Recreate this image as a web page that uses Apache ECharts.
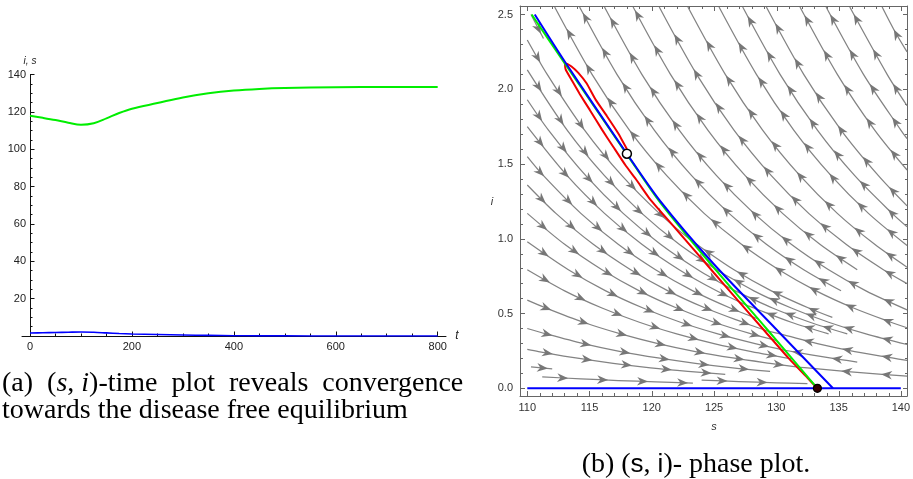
<!DOCTYPE html>
<html><head><meta charset="utf-8">
<script src="https://cdn.jsdelivr.net/npm/echarts@6/dist/echarts.min.js"></script>
<style>html,body{margin:0;padding:0;background:#fff}#c{width:913px;height:479px}</style>
</head><body><div id="c"></div>
<script>
// ---------- (a) time plot data ----------
const timeT = [0,25,50,75,100,125,150,175,200,250,300,350,400,450,500,600,700,800];
const timeS = [118.0,116.9,115.7,114.3,113.2,114.0,116.6,119.5,121.8,124.8,127.8,130.0,131.5,132.4,132.9,133.3,133.4,133.4];
const timeI = [1.57,1.73,1.88,2.04,2.17,1.99,1.65,1.31,1.09,0.80,0.53,0.31,0.17,0.09,0.045,0.01,0.002,0];
const timeXTicks = [0,200,400,600,800];
const timeYTicks = [20,40,60,80,100,120,140];

// ---------- (b) phase plot data ----------
const sTicks = [110,115,120,125,130,135,140];
const iTicks = [0,0.5,1.0,1.5,2.0,2.5];
const redS = [118.0,117.3,116.4,115.5,114.76,114.1,113.55,113.2,113.02,113.05,113.1,113.56,114.2,115.02,116.0,116.9,117.9,118.8,119.9,122.0,125.0,127.0,129.0,131.0,132.5,133.3];
const redI = [1.60,1.706,1.82,1.929,2.04,2.11,2.152,2.17,2.175,2.145,2.129,2.062,1.97,1.862,1.73,1.616,1.49,1.39,1.26,1.06,0.771,0.58,0.39,0.20,0.07,0];
const greenS = [110.35,113.0,118.0,120.7,125.0,129.2,133.3];
const greenI = [2.5,2.175,1.565,1.24,0.805,0.40,0];
const blueS = [110.6,113.1,118.0,120.7,124.9,129.7,134.55];
const blueI = [2.5,2.174,1.569,1.25,0.838,0.42,0];
const blueAxisS = [110,140];
const blueAxisI = [0,0];
const startPoint = [118.0,1.569];
const equilibriumPoint = [133.3,0];

// streamlines flowing down-right (points in flow order)
const streamsDown = [
 [[110.3,2.50],[111.3,2.34]],
 [[110,2.33],[111.6,2.10],[114.6,1.727],[117.6,1.422],[120.6,1.17],[123,1.0]],
 [[110,2.13],[113.2,1.727],[116.2,1.422],[119.2,1.17],[122.2,0.963],[125.2,0.793]],
 [[110,1.93],[111.7,1.727],[114.7,1.422],[117.7,1.17],[120.7,0.963],[123.7,0.793],[126.5,0.66]],
 [[110,1.75],[113.2,1.422],[116.2,1.17],[119.2,0.963],[122.2,0.793],[125.2,0.652],[127.5,0.56]],
 [[110,1.55],[111.3,1.422],[114.3,1.17],[117.3,0.963],[120.3,0.793],[123.3,0.652],[126.3,0.537],[128.5,0.465]],
 [[110,1.36],[112.3,1.17],[115.3,0.963],[118.3,0.793],[121.3,0.652],[124.3,0.537],[127.3,0.442],[129.4,0.38]],
 [[110,1.17],[113,0.963],[116,0.793],[119,0.652],[122,0.537],[125,0.442],[128,0.364],[130,0.32]],
 [[110,0.98],[113.3,0.793],[116.3,0.652],[119.3,0.537],[122.3,0.442],[125.3,0.364],[128.3,0.299],[130.7,0.254]],
 [[110,0.793],[113,0.652],[116,0.537],[119,0.442],[122,0.364],[125,0.299],[128,0.246],[131.3,0.197]],
 [[110,0.59],[111.5,0.537],[114.5,0.442],[117.5,0.364],[120.5,0.299],[123.5,0.246],[126.5,0.203],[129.5,0.167],[131.9,0.14]],
 [[110,0.40],[111.5,0.364],[114.5,0.299],[117.5,0.246],[120.5,0.203],[123.5,0.167],[126.5,0.137],[129.5,0.113]],
 [[110,0.26],[110.9,0.246],[113.9,0.203],[116.9,0.167],[119.9,0.137],[122.9,0.113],[125.9,0.093]],
 [[110.3,0.144],[112,0.13]],
 [[111.2,0.077],[114.3,0.063],[117.3,0.052],[120.3,0.043],[123.3,0.035]],
 [[124,0.055],[127,0.045],[130,0.037],[132.5,0.031]]
];
// streamlines flowing up-left (points listed left to right, flow runs right to left)
const streamsUp = [
 [[138.5,2.55],[139.5,2.39],[140.5,2.25]],
 [[135.9,2.55],[138.9,2.10],[140.5,1.89]],
 [[134,2.55],[137,2.10],[140,1.727],[140.5,1.67]],
 [[131.9,2.55],[134.9,2.10],[137.9,1.727],[140.5,1.46]],
 [[129.2,2.55],[132.2,2.10],[135.2,1.727],[138.2,1.422],[140.5,1.22]],
 [[127.3,2.55],[130.3,2.10],[133.3,1.727],[136.3,1.422],[139.3,1.17],[140.5,1.08]],
 [[125.4,2.55],[128.4,2.10],[131.4,1.727],[134.4,1.422],[137.4,1.17],[140.5,0.955]],
 [[122.9,2.55],[125.9,2.10],[128.9,1.727],[131.9,1.422],[134.9,1.17],[137.9,0.963],[140.5,0.81]],
 [[120.6,2.55],[123.6,2.10],[126.6,1.727],[129.6,1.422],[132.6,1.17],[135.6,0.963],[138.6,0.793],[140.5,0.70]],
 [[118.5,2.55],[121.5,2.10],[124.5,1.727],[127.5,1.422],[130.5,1.17],[133.5,0.963],[136.5,0.793]],
 [[116.2,2.55],[119.2,2.10],[122.2,1.727],[125.2,1.422],[128.2,1.17],[131.2,0.963],[134.2,0.793],[137.2,0.652],[140.5,0.525]],
 [[114.2,2.55],[117.2,2.10],[120.2,1.727],[123.2,1.422],[126.2,1.17],[129.2,0.963],[132.2,0.793],[135.2,0.652]],
 [[112.2,2.55],[115.2,2.10],[118.2,1.727],[121.2,1.422],[124.2,1.17],[127.2,0.963],[130.2,0.793],[133.2,0.652],[136.2,0.537],[139.2,0.442],[140.5,0.405]],
 [[123,1.0],[123.6,0.963],[126.6,0.793],[129.6,0.652],[132.6,0.537],[134.5,0.474]],
 [[125.2,0.793],[128.2,0.652],[131.2,0.537],[134.2,0.442],[137.2,0.364],[140.5,0.293]],
 [[126.5,0.66],[129.7,0.537],[132.7,0.442],[135.7,0.364]],
 [[127.5,0.56],[128.2,0.537],[131.2,0.442],[134.2,0.364]],
 [[129.4,0.38],[130.3,0.364],[133.3,0.299],[136.3,0.246],[139.3,0.203],[140.5,0.186]],
 [[130.7,0.254],[131.3,0.246],[134.3,0.203],[136.5,0.175]],
 [[131.9,0.14],[132.5,0.137],[135.5,0.113],[138.5,0.093],[140.5,0.081]]
];

// ---------- helpers ----------
const zip = (a, b) => a.map((v, k) => [v, b[k]]);
const STREAM = '#838383', ARROW = '#777777';
const FRAME = '#666666';
const LBL = {fontFamily: 'Liberation Sans', fontSize: 11, color: '#333'};
const TMIN = -15.7, TMAX = 816.3, SMIN = 109.415, SMAX = 140.505, IMIN = -0.0515, IMAX = 2.557;

function streamRender(list, reverse) {
  return function (params, api) {
    let px = list[params.dataIndex].map(p => api.coord(p));
    if (reverse) px = px.slice().reverse();
    const children = [{type: 'polyline', shape: {points: px, smooth: 0.3},
      style: {stroke: STREAM, lineWidth: 1.25, fill: null}}];
    const segs = []; let L = 0;
    for (let k = 1; k < px.length; k++) {
      const dx = px[k][0] - px[k-1][0], dy = px[k][1] - px[k-1][1];
      const len = Math.hypot(dx, dy);
      if (len < 1e-6) continue;
      segs.push({a: px[k-1], dx, dy, len, start: L}); L += len;
    }
    const marks = [];
    if (L < 34) marks.push(L * 0.8);
    else for (let d = 26; d < L - 3; d += 40) marks.push(d);
    marks.forEach(d => {
      const g = segs.find(q => d >= q.start && d <= q.start + q.len) || segs[segs.length - 1];
      const t = Math.min(1, (d - g.start) / g.len);
      const x = g.a[0] + g.dx * t, y = g.a[1] + g.dy * t;
      const ux = g.dx / g.len, uy = g.dy / g.len, hl = 11, hw = 4.3;
      children.push({type: 'polygon', shape: {points: [[x, y],
        [x - ux*hl - uy*hw, y - uy*hl + ux*hw],
        [x - ux*hl*0.7, y - uy*hl*0.7],
        [x - ux*hl + uy*hw, y - uy*hl - ux*hw]]}, style: {fill: ARROW}});
    });
    return {type: 'group', children};
  };
}

const NOLINE = {show: false, onZero: false};
const NOTICK = {show: false};
const NOLABEL = {show: false};
function ax(extra) { return Object.assign({type: 'value', splitLine: {show: false}}, extra); }
function tickAx(grid, pos, min, max, interval, len, color, label) {
  return ax({gridIndex: grid, position: pos, min: min, max: max, interval: interval,
    axisLine: NOLINE,
    axisTick: {show: true, inside: true, length: len, lineStyle: {color: color, width: 1}},
    axisLabel: label || NOLABEL});
}
function dummyAx(grid) { return ax({gridIndex: grid, show: false, min: 0, max: 1}); }

const gridA = {left: 22, top: 74.7, width: 424, height: 261.3};          // time plot, full axis lines
const gridATicks = {left: 30, top: 74.7, width: 407.7, height: 261.3};   // t 0..800, y 0..140
const gridB = {left: 520, top: 6, width: 388, height: 390};              // phase plot frame
const gridBX = {left: 527.3, top: 6, width: 374.4, height: 390};         // s 110..140
const gridBY = {left: 520, top: 14.7, width: 388, height: 373.6};        // i 0..2.5

const chart = echarts.init(document.getElementById('c'), null, {renderer: 'canvas'});
const option = {
  animation: false,
  backgroundColor: '#fff',
  grid: [gridA, gridB, gridATicks, Object.assign({}, gridATicks), gridBX, Object.assign({}, gridBX), gridBY, Object.assign({}, gridBY)],
  xAxis: [
    ax({gridIndex: 0, position: 'bottom', min: TMIN, max: TMAX,
      axisLine: {show: true, onZero: true, lineStyle: {color: '#111', width: 1}}, axisTick: NOTICK, axisLabel: NOLABEL}),
    ax({gridIndex: 1, position: 'bottom', min: SMIN, max: SMAX,
      axisLine: {show: true, onZero: false, lineStyle: {color: FRAME}}, axisTick: NOTICK,
      axisLabel: Object.assign({customValues: sTicks, margin: 6}, LBL)}),
    ax({gridIndex: 1, position: 'top', min: SMIN, max: SMAX,
      axisLine: {show: true, onZero: false, lineStyle: {color: FRAME}}, axisTick: NOTICK, axisLabel: NOLABEL}),
    tickAx(2, 'bottom', 0, 800, 200, 4.5, '#111', Object.assign({margin: 5}, LBL, {color: '#222'})),
    tickAx(3, 'bottom', 0, 800, 50, 2.5, '#111'),
    tickAx(4, 'bottom', 110, 140, 5, 5, FRAME),
    tickAx(4, 'top', 110, 140, 5, 5, FRAME),
    tickAx(5, 'bottom', 110, 140, 1, 3, FRAME),
    tickAx(5, 'top', 110, 140, 1, 3, FRAME),
    dummyAx(6),
    dummyAx(7)
  ],
  yAxis: [
    ax({gridIndex: 0, position: 'left', min: 0, max: 140,
      axisLine: {show: true, onZero: true, lineStyle: {color: '#111', width: 1}}, axisTick: NOTICK, axisLabel: NOLABEL}),
    ax({gridIndex: 1, position: 'left', min: IMIN, max: IMAX,
      axisLine: {show: true, onZero: false, lineStyle: {color: FRAME}}, axisTick: NOTICK,
      axisLabel: Object.assign({customValues: iTicks, margin: 7, formatter: v => v.toFixed(1)}, LBL)}),
    ax({gridIndex: 1, position: 'right', min: IMIN, max: IMAX,
      axisLine: {show: true, onZero: false, lineStyle: {color: FRAME}}, axisTick: NOTICK, axisLabel: NOLABEL}),
    tickAx(2, 'left', 0, 140, 20, 4.5, '#111', Object.assign({margin: 4, showMinLabel: false,
      formatter: v => (v === 0 ? '' : String(v))}, LBL, {color: '#222'})),
    tickAx(3, 'left', 0, 140, 5, 2.5, '#111'),
    dummyAx(4),
    dummyAx(5),
    tickAx(6, 'left', 0, 2.5, 0.5, 5, FRAME),
    tickAx(6, 'right', 0, 2.5, 0.5, 5, FRAME),
    tickAx(7, 'left', 0, 2.5, 0.1, 3, FRAME),
    tickAx(7, 'right', 0, 2.5, 0.1, 3, FRAME)
  ],
  series: [
    {type: 'line', xAxisIndex: 0, yAxisIndex: 0, data: zip(timeT, timeS), showSymbol: false, smooth: 0.35,
      lineStyle: {color: '#00ee00', width: 2}, z: 3},
    {type: 'line', xAxisIndex: 0, yAxisIndex: 0, data: zip(timeT, timeI), showSymbol: false, smooth: 0.35,
      lineStyle: {color: '#0000ff', width: 1.6}, z: 3},
    {type: 'custom', xAxisIndex: 1, yAxisIndex: 1, clip: true, renderItem: streamRender(streamsDown, false),
      data: streamsDown.map(p => p[0]), z: 1},
    {type: 'custom', xAxisIndex: 1, yAxisIndex: 1, clip: true, renderItem: streamRender(streamsUp, true),
      data: streamsUp.map(p => p[0]), z: 1},
    {type: 'line', xAxisIndex: 1, yAxisIndex: 1, data: zip(redS, redI), showSymbol: false, smooth: 0.15,
      lineStyle: {color: '#ee0000', width: 2}, z: 3},
    {type: 'line', xAxisIndex: 1, yAxisIndex: 1, data: zip(greenS, greenI), showSymbol: false, smooth: 0.3,
      lineStyle: {color: '#00ee00', width: 2}, z: 4},
    {type: 'line', xAxisIndex: 1, yAxisIndex: 1, data: zip(blueS, blueI), showSymbol: false, smooth: 0.3,
      lineStyle: {color: '#0000ff', width: 2}, z: 5},
    {type: 'line', xAxisIndex: 1, yAxisIndex: 1, data: zip(blueAxisS, blueAxisI), showSymbol: false,
      lineStyle: {color: '#0000ff', width: 2}, z: 5},
    {type: 'scatter', xAxisIndex: 1, yAxisIndex: 1, data: [startPoint], symbolSize: 9,
      itemStyle: {color: '#fff', borderColor: '#000', borderWidth: 1.5, opacity: 1}, z: 6},
    {type: 'scatter', xAxisIndex: 1, yAxisIndex: 1, data: [equilibriumPoint], symbolSize: 8,
      itemStyle: {color: '#300', borderColor: '#000', borderWidth: 1.2, opacity: 1}, z: 6}
  ],
  graphic: [
    {type: 'text', x: 30, y: 61, style: {text: 'i, s', fontFamily: 'Liberation Sans', fontStyle: 'italic', fontSize: 10, fill: '#222', align: 'center', verticalAlign: 'middle'}},
    {type: 'text', x: 457, y: 336, style: {text: 't', fontFamily: 'Liberation Sans', fontStyle: 'italic', fontSize: 12, fill: '#222', align: 'center', verticalAlign: 'middle'}},
    {type: 'text', x: 714, y: 427, style: {text: 's', fontFamily: 'Liberation Sans', fontStyle: 'italic', fontSize: 11, fill: '#333', align: 'center', verticalAlign: 'middle'}},
    {type: 'text', x: 492, y: 202, style: {text: 'i', fontFamily: 'Liberation Sans', fontStyle: 'italic', fontSize: 11, fill: '#333', align: 'center', verticalAlign: 'middle'}},
    {type: 'text', x: 2, y: 384, style: {text: '(a)  ({it|s}, {it|i})-time  plot  reveals  convergence',
      fontFamily: 'Liberation Serif', fontSize: 28, fill: '#000', align: 'left', verticalAlign: 'middle',
      rich: {it: {fontFamily: 'Liberation Serif', fontStyle: 'italic', fontSize: 28, fill: '#000'}}}},
    {type: 'text', x: 2, y: 411, style: {text: 'towards the disease free equilibrium',
      fontFamily: 'Liberation Serif', fontSize: 28, fill: '#000', align: 'left', verticalAlign: 'middle'}},
    {type: 'text', x: 696, y: 465, style: {text: '(b) ({sf|s}, {sf|i})- phase plot.',
      fontFamily: 'Liberation Serif', fontSize: 28, fill: '#000', align: 'center', verticalAlign: 'middle',
      rich: {sf: {fontFamily: 'Liberation Sans', fontSize: 26, fill: '#000'}}}}
  ]
};
chart.setOption(option);
</script></body></html>
